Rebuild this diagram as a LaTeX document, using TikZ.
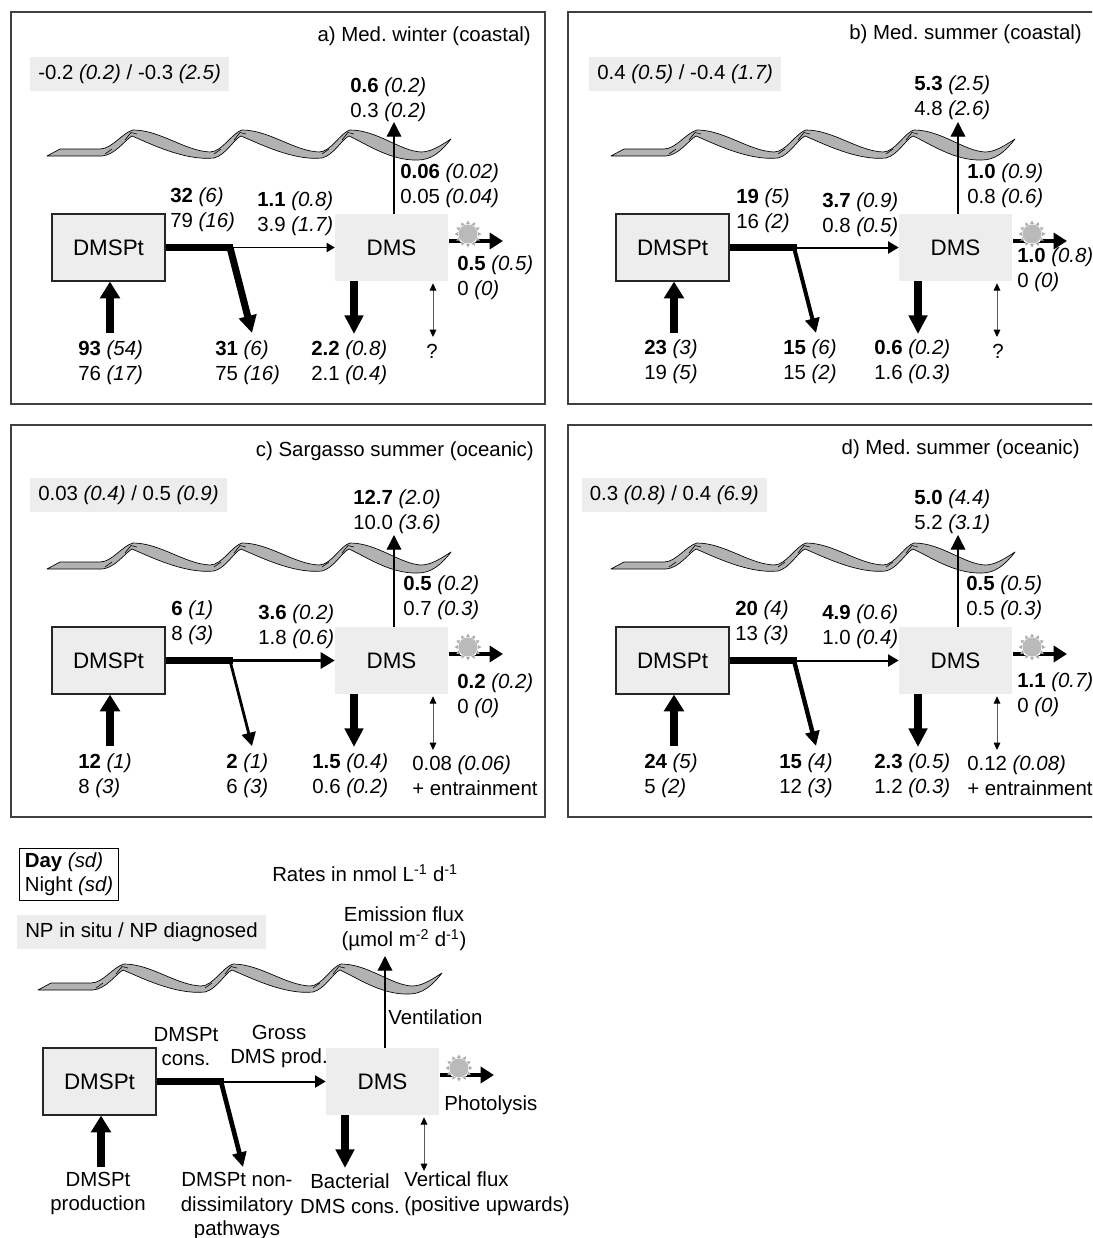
\documentclass[tikz,border=0pt]{standalone}
\usepackage{fontspec}
\setmainfont{Liberation Sans}
\usetikzlibrary{arrows.meta,calc}
\frenchspacing

% day value (bold) with sd, night value with sd
\newcommand\dayninght[4]{\textbf{#1} \textit{(#2)}\\#3 \textit{(#4)}}

% the sea surface, drawn as a twisted grey ribbon
\newcommand\seaband{%
  \path[ribbon]
    (47,156) -- (60,149) -- (100,149)
    .. controls (112,149) and (122,133) .. (133,130)
    .. controls (160,130) and (185,151) .. (210,152)
    .. controls (222,152) and (232,133) .. (242,130)
    .. controls (269,130) and (294,151) .. (319,152)
    .. controls (331,152) and (340,133) .. (350,130)
    .. controls (377,130) and (400,151) .. (421,152)
    .. controls (431,152) and (440,146) .. (451,139)
    .. controls (441,152) and (431,160) .. (418,160)
    .. controls (390,161) and (365,143) .. (349,136)
    .. controls (342,139) and (334,155) .. (322,158)
    .. controls (293,161) and (258,143) .. (241,136)
    .. controls (234,139) and (226,155) .. (214,158)
    .. controls (184,161) and (149,143) .. (132,136)
    .. controls (125,140) and (115,155) .. (102,156)
    -- cycle;
  \foreach \c in {133,242,350}{
    \draw[line width=0.45pt] (\c-8,140) -- (\c-2,132.5) -- (\c+4,134);
    \draw[line width=0.45pt] (\c-28,154) -- (\c-21,149);
  }
}

% sun symbol on the photolysis arrow
\newcommand\sunmark[1]{%
  \fill[white] (#1) circle[radius=11];
  \foreach \a in {0,30,...,330}
    \fill[black!32] ($(#1)+(\a:10)+(\a+90:2)$) -- ($(#1)+(\a:13.5)$)
                    -- ($(#1)+(\a:10)+(\a-90:2)$) -- cycle;
  \fill[black!27] (#1) circle[radius=9.5];
}

% one budget: boxes, ribbon and flux arrows
% #1 prefix, #2-#4 gross DMS production arrow (width, head length, head width),
% #5-#7 non-dissimilatory arrow (width, head length, head width)
\newcommand\budget[7]{%
  \seaband
  \node[spbox] (#1sp) at (108.5,247.5) {DMSPt};
  \node[dmsbox] (#1dms) at (391.5,247.5) {DMS};
  \coordinate (#1bend) at (230,247.5);
  \coordinate (#1nd) at (252,333);
  \coordinate (#1prod) at (110,333);
  \coordinate (#1bact) at (354,334);
  \coordinate (#1vent) at (394,122);
  \coordinate (#1photo) at (503,241);
  \coordinate (#1sun) at (468,234);
  \coordinate (#1vf) at (433,337);
  \draw[line width=5.25pt] (#1sp.east) -- ($(#1bend)+(3,0)$);
  \draw[line width=#5pt, -{Triangle[length=#6pt,width=#7pt]}] (#1bend) -- (#1nd);
  \draw[line width=#2pt, -{Triangle[length=#3pt,width=#4pt]}] (#1bend) -- (#1dms.west);
  \draw[prodarrow] (#1prod) -- (#1prod |- #1sp.south);
  \draw[bactarrow] (#1dms.south -| #1bact) -- (#1bact);
  \draw[ventarrow] (#1dms.north -| #1vent) -- (#1vent);
  \draw[photoarrow] ($(#1dms.east |- #1photo)+(1,0)$) -- (#1photo);
  \draw[vfarrow] ($(#1dms.south -| #1vf)+(0,2)$) -- (#1vf);
  \sunmark{#1sun}
}

\begin{document}
\begin{tikzpicture}[x=0.75pt,y=-0.75pt,
  panelframe/.style={draw=black!75, line width=1.1pt},
  lbl/.style={font=\fontsize{15.3}{18.5}\selectfont, inner sep=0pt, anchor=west, align=left},
  ctext/.style={font=\fontsize{15.3}{18.5}\selectfont, inner sep=0pt, align=center},
  ttl/.style={font=\fontsize{15.3}{18.5}\selectfont, inner sep=0pt, anchor=east},
  npbox/.style={fill=black!7, font=\fontsize{15.3}{18.5}\selectfont, inner xsep=6pt,
    inner ysep=0pt, minimum height=25.5pt, anchor=west},
  spbox/.style={draw=black!85, line width=0.9pt, fill=black!7, minimum width=84.75pt,
    minimum height=50.25pt, font=\fontsize{16.8}{20}\selectfont, inner sep=0pt},
  dmsbox/.style={fill=black!7, minimum width=84.75pt, minimum height=50.25pt,
    font=\fontsize{16.8}{20}\selectfont, inner sep=0pt},
  ribbon/.style={fill=black!30, draw=black, line width=0.5pt, line join=round},
  prodarrow/.style={line width=6pt, -{Triangle[length=12.5pt,width=14.5pt]}},
  bactarrow/.style={line width=6pt, -{Triangle[length=14pt,width=13.5pt]}},
  ventarrow/.style={line width=1pt, -{Triangle[length=11pt,width=11pt]}},
  photoarrow/.style={line width=2.8pt, -{Triangle[length=10pt,width=12pt]}},
  vfarrow/.style={line width=0.7pt, draw=black!65,
    {Triangle[length=5.5pt,width=5pt,black]}-{Triangle[length=5.5pt,width=5pt,black]}},
]
\useasboundingbox (0,0) rectangle (1092,1238);
\clip (0,0) rectangle (1092,1238);
\fill[white] (0,0) rectangle (1092,1238);

% ---- a) Med. winter (coastal)
\draw[panelframe] (11,12) rectangle (545,404);
\budget{a}{0.75}{6}{7}{5.25}{13}{13}
\node[ttl] (atitle) at (531,36) {a) Med. winter (coastal)};
\node[npbox] (anp) at (30,74) {-0.2 \textit{(0.2)} / -0.3 \textit{(2.5)}};
\node[lbl] (aemis) at (350,99.5) {\dayninght{0.6}{0.2}{0.3}{0.2}};
\node[lbl] (avent) at (400,185.5) {\dayninght{0.06}{0.02}{0.05}{0.04}};
\node[lbl] (acons) at (170,210) {\dayninght{32}{6}{79}{16}};
\node[lbl] (agross) at (257,213.5) {\dayninght{1.1}{0.8}{3.9}{1.7}};
\node[lbl] (aphoto) at (457,278) {\dayninght{0.5}{0.5}{0}{0}};
\node[lbl] (aprodl) at (78,362.5) {\dayninght{93}{54}{76}{17}};
\node[lbl] (andl) at (215,362.5) {\dayninght{31}{6}{75}{16}};
\node[lbl] (abactl) at (311,362.5) {\dayninght{2.2}{0.8}{2.1}{0.4}};
\node[ctext] (avfl) at (432,351) {?};

% ---- b) Med. summer (coastal)
\begin{scope}[shift={(564,0)}]
\draw[panelframe] (4,12) rectangle (580,404);
\budget{b}{1.5}{8}{9}{3}{11}{10.5}
\node[ttl] (btitle) at (518,34) {b) Med. summer (coastal)};
\node[npbox] (bnp) at (25,74) {0.4 \textit{(0.5)} / -0.4 \textit{(1.7)}};
\node[lbl] (bemis) at (350,98) {\dayninght{5.3}{2.5}{4.8}{2.6}};
\node[lbl] (bvent) at (403,185.5) {\dayninght{1.0}{0.9}{0.8}{0.6}};
\node[lbl] (bcons) at (172,210.5) {\dayninght{19}{5}{16}{2}};
\node[lbl] (bgross) at (258,214.5) {\dayninght{3.7}{0.9}{0.8}{0.5}};
\node[lbl] (bphoto) at (453,270) {\dayninght{1.0}{0.8}{0}{0}};
\node[lbl] (bprodl) at (80,362) {\dayninght{23}{3}{19}{5}};
\node[lbl] (bndl) at (219,362) {\dayninght{15}{6}{15}{2}};
\node[lbl] (bbactl) at (310,362) {\dayninght{0.6}{0.2}{1.6}{0.3}};
\node[ctext] (bvfl) at (434,351) {?};
\end{scope}

% ---- c) Sargasso summer (oceanic)
\begin{scope}[shift={(0,413)}]
\draw[panelframe] (11,12) rectangle (545,404);
\budget{c}{2.1}{10.5}{12}{2.1}{10}{10.5}
\node[ttl] (ctitle) at (534,38) {c) Sargasso summer (oceanic)};
\node[npbox] (cnp) at (30,82) {0.03 \textit{(0.4)} / 0.5 \textit{(0.9)}};
\node[lbl] (cemis) at (353,98.5) {\dayninght{12.7}{2.0}{10.0}{3.6}};
\node[lbl] (cvent) at (403,184.5) {\dayninght{0.5}{0.2}{0.7}{0.3}};
\node[lbl] (ccons) at (171,210) {\dayninght{6}{1}{8}{3}};
\node[lbl] (cgross) at (258,213.5) {\dayninght{3.6}{0.2}{1.8}{0.6}};
\node[lbl] (cphoto) at (457,282.5) {\dayninght{0.2}{0.2}{0}{0}};
\node[lbl] (cprodl) at (78,362.5) {\dayninght{12}{1}{8}{3}};
\node[lbl] (cndl) at (226,362.5) {\dayninght{2}{1}{6}{3}};
\node[lbl] (cbactl) at (312,362.5) {\dayninght{1.5}{0.4}{0.6}{0.2}};
\node[lbl] (cvfl) at (412,362.5) {0.08 \textit{(0.06)}\\+ entrainment};
\end{scope}

% ---- d) Med. summer (oceanic)
\begin{scope}[shift={(564,413)}]
\draw[panelframe] (4,12) rectangle (580,404);
\budget{d}{1.5}{8}{9}{3.3}{11}{10.5}
\node[ttl] (dtitle) at (516,36) {d) Med. summer (oceanic)};
\node[npbox] (dnp) at (17.5,82) {0.3 \textit{(0.8)} / 0.4 \textit{(6.9)}};
\node[lbl] (demis) at (350,99) {\dayninght{5.0}{4.4}{5.2}{3.1}};
\node[lbl] (dvent) at (402,185) {\dayninght{0.5}{0.5}{0.5}{0.3}};
\node[lbl] (dcons) at (171,210) {\dayninght{20}{4}{13}{3}};
\node[lbl] (dgross) at (258,214) {\dayninght{4.9}{0.6}{1.0}{0.4}};
\node[lbl] (dphoto) at (453,281.5) {\dayninght{1.1}{0.7}{0}{0}};
\node[lbl] (dprodl) at (80,362.5) {\dayninght{24}{5}{5}{2}};
\node[lbl] (dndl) at (215,362.5) {\dayninght{15}{4}{12}{3}};
\node[lbl] (dbactl) at (310,362.5) {\dayninght{2.3}{0.5}{1.2}{0.3}};
\node[lbl] (dvfl) at (403,362.5) {0.12 \textit{(0.08)}\\+ entrainment};
\end{scope}

% ---- key
\begin{scope}[shift={(-9,834)}]
\budget{k}{1.5}{8}{9}{3.5}{11}{10.5}
\end{scope}
\node[lbl, draw=black, line width=0.8pt, inner xsep=4pt, inner ysep=3pt, anchor=north west]
  (kday) at (19,848) {\textbf{Day} \textit{(sd)}\\Night \textit{(sd)}};
\node[lbl] (krates) at (272,873) {Rates in nmol L\textsuperscript{-1} d\textsuperscript{-1}};
\node[npbox] (knp) at (17,932) {NP in situ / NP diagnosed};
\node[ctext] (kemis) at (404,929) {Emission flux\\(µmol m\textsuperscript{-2} d\textsuperscript{-1})};
\node[lbl] (kvent) at (388,1017) {Ventilation};
\node[ctext] (kcons) at (186,1046.5) {DMSPt\\cons.};
\node[ctext] (kgross) at (279,1046.5) {Gross\\DMS prod.};
\node[lbl] (kphoto) at (444,1105) {Photolysis};
\node[ctext] (kprodl) at (98,1193.5) {DMSPt\\production};
\node[ctext] (kndl) at (237,1206) {DMSPt non-\\dissimilatory\\pathways};
\node[ctext] (kbactl) at (350,1193.5) {Bacterial\\DMS cons.};
\node[lbl] (kvfl) at (404,1193.5) {Vertical flux\\(positive upwards)};
\end{tikzpicture}
\end{document}
